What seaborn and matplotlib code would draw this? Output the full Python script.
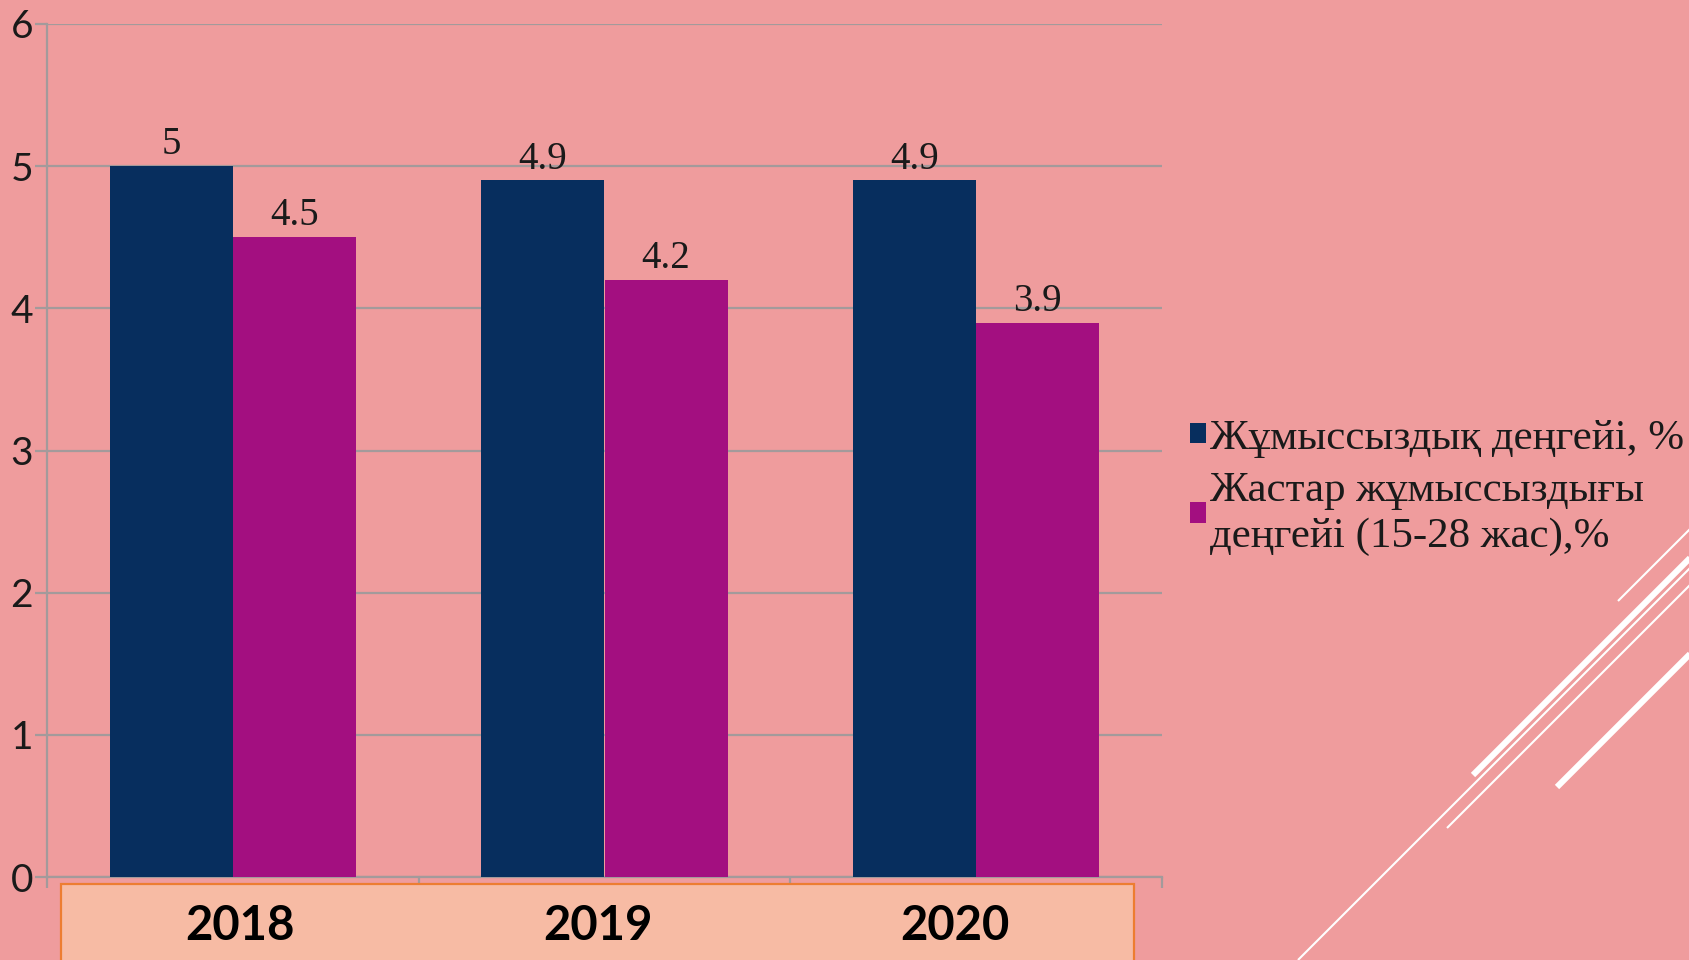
import matplotlib
matplotlib.use("Agg")
import matplotlib.pyplot as plt
from matplotlib.lines import Line2D
from matplotlib.patches import Rectangle, Patch
import pandas as pd
import seaborn as sns

# ---- data ----
years = ["2018", "2019", "2020"]
series_names = ["Жұмыссыздық деңгейі, %",
                "Жастар жұмыссыздығы\nдеңгейі (15-28 жас),%"]
overall_rate = [5.0, 4.9, 4.9]
youth_rate = [4.5, 4.2, 3.9]
y_ticks = [0, 1, 2, 3, 4, 5, 6]

# ---- style ----
BG = "#EF9C9D"
BLUE = "#072E5E"
MAGENTA = "#A30F80"
GRID = "#A39A9B"
BOX_FILL = "#F7BBA4"
BOX_EDGE = "#ED7D31"
INK = "#1A1A1A"

W, H = 1689, 960


def fx(px):
    return px / W


def fy(py):
    return 1 - py / H


df = pd.DataFrame({
    "year": years * 2,
    "series": [series_names[0]] * len(years) + [series_names[1]] * len(years),
    "rate": overall_rate + youth_rate,
})

fig = plt.figure(figsize=(W / 100, H / 100), dpi=100, facecolor=BG)
ax = fig.add_axes([fx(47), fy(877), fx(1162) - fx(47), fy(24) - fy(877)])
ax.set_facecolor(BG)

sns.barplot(data=df, x="year", y="rate", hue="series",
            palette=[BLUE, MAGENTA], width=0.662, saturation=1,
            errorbar=None, legend=False, ax=ax, zorder=3)

for cont in ax.containers:
    ax.bar_label(cont, fmt="%g", padding=2, fontsize=28,
                 family="Liberation Serif", color=INK, zorder=4)

ax.set_xlim(-0.5, len(years) - 0.5)
ax.set_ylim(y_ticks[0], y_ticks[-1])
ax.set_yticks(y_ticks)
ax.set_yticklabels([str(t) for t in y_ticks], family="Lato", fontsize=28, color=INK)
ax.set_xlabel("")
ax.set_ylabel("")

ax.yaxis.grid(True, color=GRID, lw=1.6)
ax.xaxis.grid(False)
ax.set_axisbelow(True)
for side in ("top", "right"):
    ax.spines[side].set_visible(False)
for side in ("left", "bottom"):
    ax.spines[side].set_color(GRID)
    ax.spines[side].set_linewidth(1.6)

ax.tick_params(axis="y", length=9, width=1.6, color=GRID, pad=1)
ax.set_xticks([i - 0.5 for i in range(len(years) + 1)], minor=True)
ax.tick_params(axis="x", which="major", length=0, labelbottom=False)
ax.tick_params(axis="x", which="minor", length=8, width=1.6, color=GRID)

# category strip under the axis
box_l, box_r, box_t = 61, 1134, 884
fig.add_artist(Rectangle((fx(box_l), fy(H + 20)), fx(box_r) - fx(box_l),
                         fy(box_t) - fy(H + 20), transform=fig.transFigure,
                         facecolor=BOX_FILL, edgecolor=BOX_EDGE, lw=1.6, zorder=5))
col_w = (box_r - box_l) / len(years)
for i, yr in enumerate(years):
    fig.text(fx(box_l + col_w * (i + 0.5)), fy(926), yr, ha="center", va="center",
             family="Lato", fontweight="bold", fontsize=34, color="black", zorder=6)

# legend
handles = [Patch(facecolor=c, edgecolor="none") for c in (BLUE, MAGENTA)]
leg = fig.legend(handles, series_names, loc="upper left",
                 bbox_to_anchor=(fx(1190), fy(419)), frameon=False,
                 prop={"family": "Liberation Serif", "size": 31},
                 handlelength=0.36, handleheight=0.36, handletextpad=0.1,
                 labelspacing=0.32, borderpad=0, borderaxespad=0, labelcolor=INK)
for t in leg.get_texts():
    t.set_linespacing(1.25)

# decorative strokes in the lower right corner
strokes = [
    ((1298, 960), (1700, 558), 1.5),
    ((1473, 775), (1700, 548), 4.4),
    ((1447, 828), (1700, 575), 1.5),
    ((1557, 787), (1700, 644), 4.4),
    ((1618, 601), (1700, 519), 1.5),
]
for (x0, y0), (x1, y1), lw in strokes:
    fig.add_artist(Line2D([fx(x0), fx(x1)], [fy(y0), fy(y1)],
                          transform=fig.transFigure, color="white", lw=lw,
                          solid_capstyle="butt"))

fig.savefig("out.png", dpi=100, facecolor=BG)
